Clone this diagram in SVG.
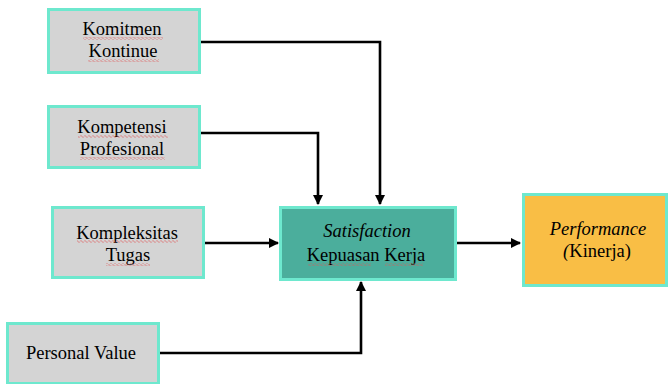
<svg xmlns="http://www.w3.org/2000/svg" width="668" height="384" viewBox="0 0 668 384">
<defs>
<style>
.box{stroke:#6EE8CE;stroke-width:3}
.grey{fill:#D4D4D4}
text{font-family:'Liberation Serif','DejaVu Serif',serif;font-size:18.5px;fill:#000;text-anchor:middle}
.i{font-style:italic}
.c{fill:none;stroke:#000;stroke-width:2.6}
</style>
<marker id="ah" viewBox="0 0 10 10" refX="9" refY="5" markerWidth="4" markerHeight="4" orient="auto" markerUnits="strokeWidth">
<path d="M0,0 L10,5 L0,10 z" fill="#000"/>
</marker>
<pattern id="wave" width="4" height="3" patternUnits="userSpaceOnUse">
<path d="M0,1.5 L1,0.5 L3,2.5 L4,1.5" fill="none" stroke="#E05555" stroke-width="0.7"/>
</pattern>
</defs>
<g id="connectors">
<path class="c" d="M200,42 H380 V204" marker-end="url(#ah)"/>
<path class="c" d="M200,133 H318 V204" marker-end="url(#ah)"/>
<path class="c" d="M204,243 H278" marker-end="url(#ah)"/>
<path class="c" d="M159,353 H361 V282" marker-end="url(#ah)"/>
<path class="c" d="M456,243 H520" marker-end="url(#ah)"/>
</g>
<g id="komitmen">
<rect class="box grey" x="48.5" y="9.5" width="151" height="63"/>
<text x="122" y="35">Komitmen</text>
<text x="123" y="57">Kontinue</text>
<rect x="83" y="37" width="80" height="3" fill="url(#wave)"/>
<rect x="88" y="59" width="71" height="3" fill="url(#wave)"/>
</g>
<g id="kompetensi">
<rect class="box grey" x="48.5" y="106.5" width="151" height="61"/>
<text x="122" y="133">Kompetensi</text>
<text x="122" y="155">Profesional</text>
<rect x="78" y="135" width="90" height="3" fill="url(#wave)"/>
<rect x="80" y="157" width="85" height="3" fill="url(#wave)"/>
</g>
<g id="kompleksitas">
<rect class="box grey" x="52.5" y="207.5" width="151" height="70"/>
<text x="127" y="239">Kompleksitas</text>
<text x="128" y="261">Tugas</text>
<rect x="77" y="240" width="101" height="3" fill="url(#wave)"/>
<rect x="106" y="263" width="44" height="3" fill="url(#wave)"/>
</g>
<g id="personal">
<rect class="box grey" x="7.5" y="323.5" width="151" height="60"/>
<text x="81" y="359">Personal Value</text>
</g>
<g id="satisfaction">
<rect class="box" fill="#4BAE9C" x="280.5" y="207.5" width="175" height="72"/>
<text class="i" x="367" y="237">Satisfaction</text>
<text x="366" y="261">Kepuasan Kerja</text>
<rect x="308" y="263" width="63" height="3" fill="url(#wave)"/>
<rect x="385" y="263" width="38" height="3" fill="url(#wave)"/>
</g>
<g id="performance">
<rect class="box" fill="#F9BE45" x="523.5" y="194.5" width="143" height="91"/>
<text x="598" y="235"><tspan class="i">Performance</tspan></text>
<text x="597" y="257"><tspan class="i">(</tspan>Kinerja)</text>
</g>
</svg>
